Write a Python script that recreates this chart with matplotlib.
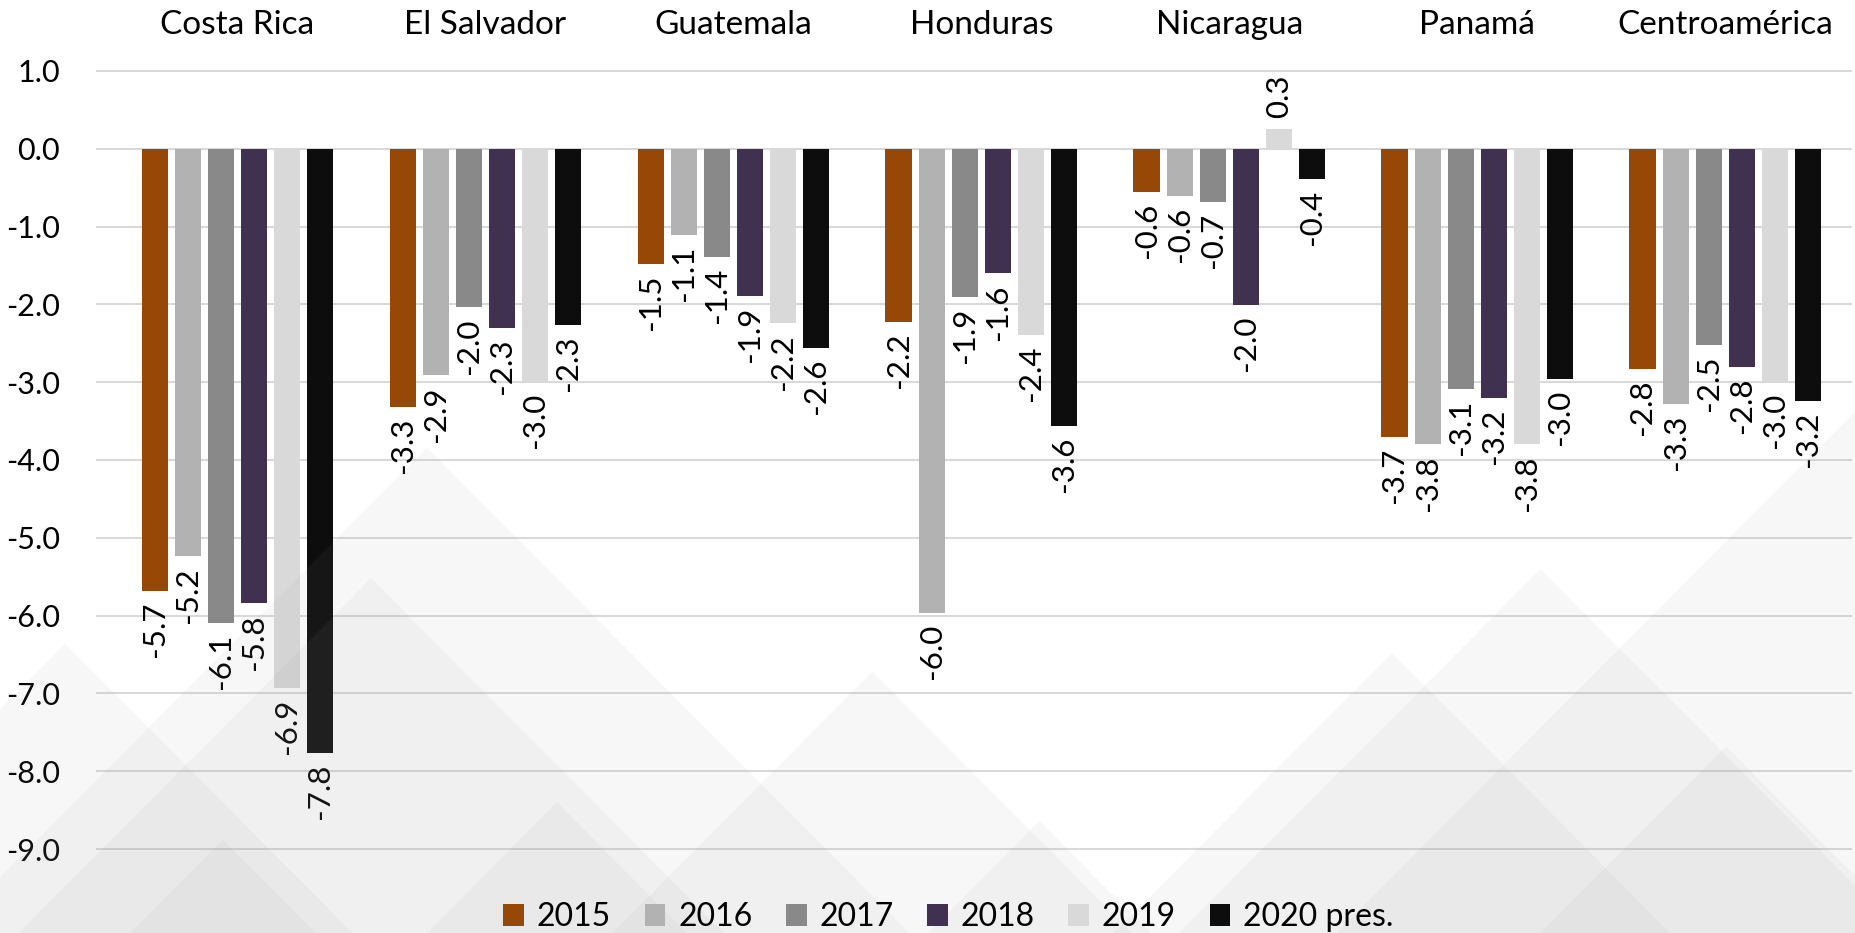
import numpy as np
import matplotlib
matplotlib.use('Agg')
import matplotlib.pyplot as plt
from matplotlib.patches import Polygon

plt.rcParams['font.family'] = ['Lato', 'DejaVu Sans']

# Data (bar heights)
countries = ['Costa Rica', 'El Salvador', 'Guatemala', 'Honduras',
             'Nicaragua', 'Panamá', 'Centroamérica']
years = ['2015', '2016', '2017', '2018', '2019', '2020 pres.']
v2015 = [-5.68, -3.32, -1.48, -2.22, -0.56, -3.70, -2.83]
v2016 = [-5.24, -2.91, -1.11, -5.97, -0.61, -3.80, -3.28]
v2017 = [-6.09, -2.04, -1.39, -1.90, -0.68, -3.09, -2.52]
v2018 = [-5.84, -2.30, -1.89, -1.60, -2.01, -3.20, -2.80]
v2019 = [-6.93, -3.00, -2.24, -2.39, 0.26, -3.80, -3.00]
v2020 = [-7.76, -2.26, -2.56, -3.56, -0.39, -2.96, -3.24]
series = [v2015, v2016, v2017, v2018, v2019, v2020]
colors = ['#974706', '#b2b2b2', '#898989', '#403151', '#d9d9d9', '#0d0d0d']

fig = plt.figure(figsize=(18.56, 9.33), dpi=100)
fig.patch.set_facecolor('white')

# decorative background triangles (figure fraction)
tri_apex = [(0.23, 0.52), (0.20, 0.38), (0.035, 0.31), (0.12, 0.10),
            (0.47, 0.28), (0.56, 0.12), (0.83, 0.39), (0.75, 0.30),
            (1.00, 0.56), (0.93, 0.20), (0.30, 0.14), (0.66, 0.0)]
for ax_, ay_ in tri_apex:
    h = ay_ + 0.05
    poly = Polygon([(ax_ - h * 0.5, -0.05), (ax_, ay_), (ax_ + h * 0.5, -0.05)],
                   closed=True, transform=fig.transFigure, facecolor='#9a9a9a',
                   alpha=0.07, edgecolor='none', zorder=0)
    fig.patches.append(poly)

ax = fig.add_axes([0.0517, 0.0483, 0.946, 0.909])
ax.set_facecolor('none')

x = np.arange(len(countries))
step = 0.1335
width = 0.105
for i, (vals, col, lab) in enumerate(zip(series, colors, years)):
    pos = x + (i - 2.5) * step
    ax.bar(pos, vals, width, color=col, label=lab, zorder=3)
    for px, v in zip(pos, vals):
        if v < 0:
            ax.text(px, v - 0.14, f'{v:.1f}', rotation=90, ha='center', va='top',
                    fontsize=22.5, zorder=4)
        else:
            ax.text(px, v + 0.14, f'{v:.1f}', rotation=90, ha='center', va='bottom',
                    fontsize=22.5, zorder=4)

ax.set_xlim(-0.57, 6.51)
ax.set_ylim(-9.5, 1.4)
ax.set_yticks(np.arange(-9, 2, 1))
ax.set_yticklabels([f'{t:.1f}' for t in np.arange(-9, 2, 1)])
ax.tick_params(axis='y', length=0, labelsize=22, pad=26)
ax.set_xticks([])
ax.grid(axis='y', color='#d9d9d9', linewidth=1.5, zorder=0)
for s in ax.spines.values():
    s.set_visible(False)

for xi, name in zip(x, countries):
    ax.text(xi, 1.0176, name, transform=ax.get_xaxis_transform(),
            ha='center', va='center', fontsize=24)

fig.legend(loc='center', bbox_to_anchor=(0.511, 0.017), ncol=6, frameon=False,
           fontsize=23, handlelength=0.65, handleheight=0.65, handletextpad=0.4,
           columnspacing=1.05)

fig.savefig('out.png', dpi=100)
